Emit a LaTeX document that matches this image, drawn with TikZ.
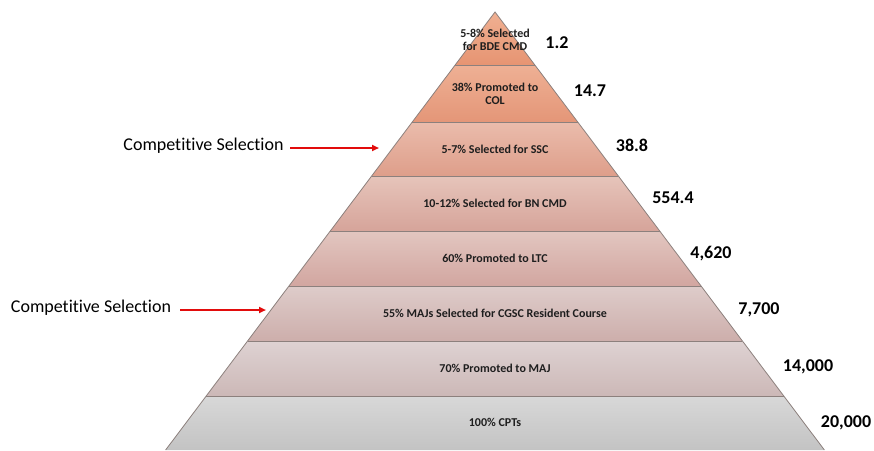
\documentclass[tikz,border=0pt]{standalone}
\usepackage{fontspec}
\setmainfont{Carlito}[Ligatures=NoCommon]
\usetikzlibrary{arrows.meta}
\definecolor{edgec}{RGB}{140,128,125}
\definecolor{txt}{RGB}{30,30,30}
\definecolor{arr}{RGB}{226,12,12}
\definecolor{aT}{RGB}{240,176,146}\definecolor{aB}{RGB}{230,148,114}
\definecolor{bT}{RGB}{238,176,148}\definecolor{bB}{RGB}{228,150,120}
\definecolor{cT}{RGB}{234,188,172}\definecolor{cB}{RGB}{222,158,138}
\definecolor{dT}{RGB}{230,196,186}\definecolor{dB}{RGB}{214,164,154}
\definecolor{eT}{RGB}{226,198,192}\definecolor{eB}{RGB}{210,166,160}
\definecolor{fT}{RGB}{222,204,202}\definecolor{fB}{RGB}{205,174,171}
\definecolor{gT}{RGB}{222,210,210}\definecolor{gB}{RGB}{204,184,183}
\definecolor{hT}{RGB}{216,216,216}\definecolor{hB}{RGB}{195,195,195}
\begin{document}
\begin{tikzpicture}[x=1pt,y=-1pt,
  lbl/.style={font=\bfseries\fontsize{12}{13}\selectfont, text=txt, align=center, inner sep=0pt},
  num/.style={font=\bfseries\fontsize{18}{20}\selectfont, text=black, inner sep=0pt},
  side/.style={font=\fontsize{18}{20}\selectfont, text=black, inner sep=0pt},
  redarrow/.style={draw=arr, line width=1.8pt, -{Triangle[length=7pt,width=6pt]}},
  tier/.style={draw=edgec, line width=0.8pt}]
\useasboundingbox (0,0) rectangle (874,450);
% boundaries: y and half-width = 0.752*(y-12), center x=495
\coordinate (apex) at (495,12);
\coordinate (L1) at (455.1,65)  ; \coordinate (R1) at (534.9,65);
\coordinate (L2) at (412.3,122) ; \coordinate (R2) at (577.7,122);
\coordinate (L3) at (371.7,176) ; \coordinate (R3) at (618.3,176);
\coordinate (L4) at (330.3,231) ; \coordinate (R4) at (659.7,231);
\coordinate (L5) at (289.0,286) ; \coordinate (R5) at (701.0,286);
\coordinate (L6) at (247.6,341) ; \coordinate (R6) at (742.4,341);
\coordinate (L7) at (206.2,396) ; \coordinate (R7) at (783.8,396);
\coordinate (L8) at (165.6,450) ; \coordinate (R8) at (824.4,450);
\shade[top color=aT, bottom color=aB] (apex) -- (R1) -- (L1) -- cycle;
\shade[top color=bT, bottom color=bB] (L1) -- (R1) -- (R2) -- (L2) -- cycle;
\shade[top color=cT, bottom color=cB] (L2) -- (R2) -- (R3) -- (L3) -- cycle;
\shade[top color=dT, bottom color=dB] (L3) -- (R3) -- (R4) -- (L4) -- cycle;
\shade[top color=eT, bottom color=eB] (L4) -- (R4) -- (R5) -- (L5) -- cycle;
\shade[top color=fT, bottom color=fB] (L5) -- (R5) -- (R6) -- (L6) -- cycle;
\shade[top color=gT, bottom color=gB] (L6) -- (R6) -- (R7) -- (L7) -- cycle;
\shade[top color=hT, bottom color=hB] (L7) -- (R7) -- (R8) -- (L8) -- cycle;
\draw[tier] (L8) -- (apex) -- (R8);
\foreach \i in {1,...,7} \draw[tier] (L\i) -- (R\i);
% tier labels
\node[lbl] (t1) at (495,39.5) {5-8\% Selected\\for BDE CMD};
\node[lbl] (t2) at (495,94) {38\% Promoted to\\COL};
\node[lbl] (t3) at (495,149) {5-7\% Selected for SSC};
\node[lbl] (t4) at (495,203) {10-12\% Selected for BN CMD};
\node[lbl] (t5) at (495,258) {60\% Promoted to LTC};
\node[lbl] (t6) at (495,313) {55\% MAJs Selected for CGSC Resident Course};
\node[lbl] (t7) at (495,368) {70\% Promoted to MAJ};
\node[lbl] (t8) at (495,422) {100\% CPTs};
% numbers
\node[num] (n1) at (557,43) {1.2};
\node[num] (n2) at (590,91) {14.7};
\node[num] (n3) at (632,145) {38.8};
\node[num] (n4) at (673,198) {554.4};
\node[num] (n5) at (711,254) {4,620};
\node[num] (n6) at (759,310) {7,700};
\node[num] (n7) at (808,367) {14,000};
\node[num] (n8) at (846,423) {20,000};
% side notes
\node[side] (c1) at (203.5,146) {Competitive Selection};
\node[side] (c2) at (91,308) {Competitive Selection};
\coordinate (e1) at (379,148);
\coordinate (e2) at (266,310);
\draw[redarrow] (290,148) -- (e1);
\draw[redarrow] (180,310) -- (e2);
\end{tikzpicture}
\end{document}
